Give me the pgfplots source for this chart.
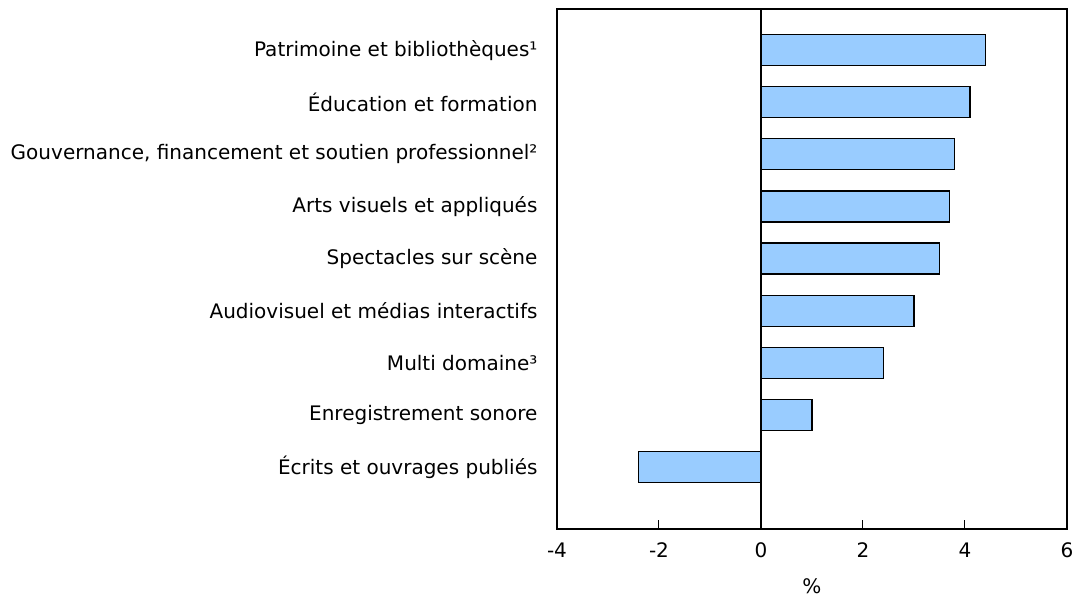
\documentclass[border=0pt]{standalone}
\usepackage{pgfplots}
\pgfplotsset{compat=1.18}
\usepackage{fontspec}
\setmainfont{DejaVu Sans}
\definecolor{barblue}{HTML}{99CCFF}
\begin{document}
\begin{tikzpicture}
\useasboundingbox (-557pt,-71pt) rectangle (518pt,529pt);
\begin{axis}[
  at={(0pt,0pt)}, anchor=south west,
  scale only axis,
  width=510pt, height=520pt,
  xbar, bar width=31pt,
  xmin=-4, xmax=6,
  ymin=-0.19, ymax=9.79,
  xtick={-4,-2,0,2,4,6},
  ytick={1,...,9},
  yticklabels={Écrits et ouvrages publiés, Enregistrement sonore, Multi domaine³, Audiovisuel et médias interactifs, Spectacles sur scène, Arts visuels et appliqués, {Gouvernance, financement et soutien professionnel²}, Éducation et formation, Patrimoine et bibliothèques¹},
  ytick style={draw=none},
  xtick style={black, line width=1pt},
  major tick length=9pt,
  xtick pos=bottom, xtick align=inside,
  axis line style={black, line width=1.3pt},
  tick label style={font=\fontsize{20}{22}\selectfont, text=black},
  /pgf/number format/assume math mode=true,
  yticklabel style={xshift=-7pt},
  xticklabel style={yshift=-10pt},
  xlabel={\%},
  xlabel style={font=\fontsize{20}{22}\selectfont, yshift=-14pt},
  clip=false,
]
\addplot[fill=barblue, draw=black, line width=1.2pt] coordinates {
  (-2.4,1) (1.0,2) (2.4,3) (3.0,4) (3.5,5) (3.7,6) (3.8,7) (4.1,8) (4.4,9)
};
\draw[black, line width=1.3pt] (axis cs:0,-0.19) -- (axis cs:0,9.79);
\end{axis}
\end{tikzpicture}
\end{document}
